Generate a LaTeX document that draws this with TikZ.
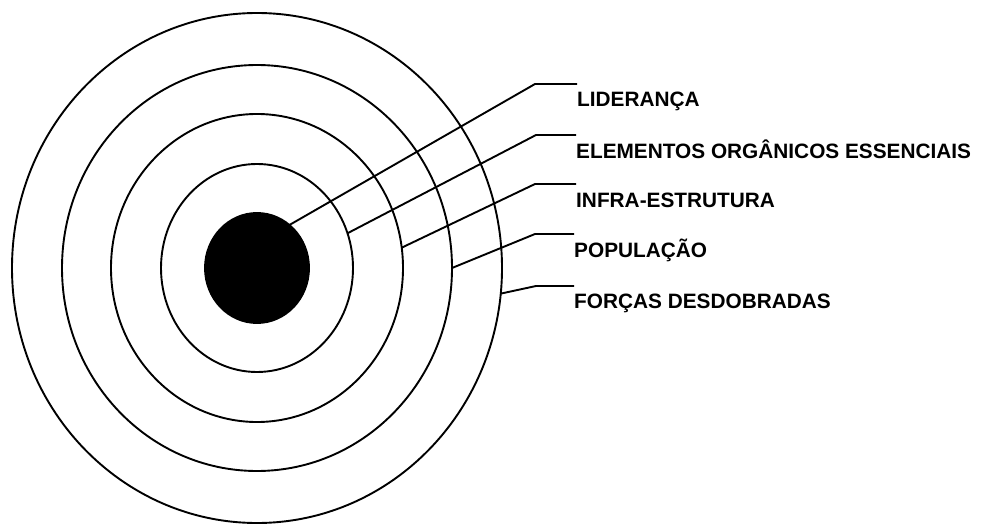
\documentclass[tikz,border=0pt]{standalone}
\usepackage{fontspec}
\setmainfont{Liberation Sans}
\usetikzlibrary{shapes.geometric}
\begin{document}
\begin{tikzpicture}[x=1pt,y=-1pt,
  ring/.style={draw, ellipse, inner sep=0pt, outer sep=0pt, line width=1.9pt},
  lead/.style={line width=1.9pt},
  lbl/.style={anchor=base west, inner sep=0pt, font=\fontsize{20.8}{22}\selectfont\bfseries}]
\useasboundingbox (0,0) rectangle (985,524);
\node[ring, minimum width=490pt, minimum height=510pt] (r1) at (257,268) {};
\node[ring, minimum width=390pt, minimum height=406pt] (r2) at (257,268) {};
\node[ring, minimum width=292pt, minimum height=308pt] (r3) at (257,268) {};
\node[ring, minimum width=192pt, minimum height=208pt] (r4) at (257,268) {};
\node[ring, fill=black, minimum width=104pt, minimum height=110pt] (r0) at (257,268) {};
\coordinate (e1) at (535,84);
\coordinate (e2) at (536,135);
\coordinate (e3) at (535,184);
\coordinate (e4) at (535,234);
\coordinate (e5) at (536,286);
\node[lbl] (l1) at (577,107) {LIDERANÇA};
\node[lbl] (l2) at (576,158) {ELEMENTOS ORGÂNICOS ESSENCIAIS};
\node[lbl] (l3) at (576,207) {INFRA-ESTRUTURA};
\node[lbl] (l4) at (574,257) {POPULAÇÃO};
\node[lbl] (l5) at (574,308) {FORÇAS DESDOBRADAS};
\draw[lead] (r0.53) -- (e1) -- (l1.west |- e1);
\draw[lead] (r4.21.8) -- (e2) -- (l2.west |- e2);
\draw[lead] (r3.8.2) -- (e3) -- (l3.west |- e3);
\draw[lead] (r2.-0.3) -- (e4) -- (l4.west |- e4);
\draw[lead] (r1.-6.8) -- (e5) -- (l5.west |- e5);
\end{tikzpicture}
\end{document}
